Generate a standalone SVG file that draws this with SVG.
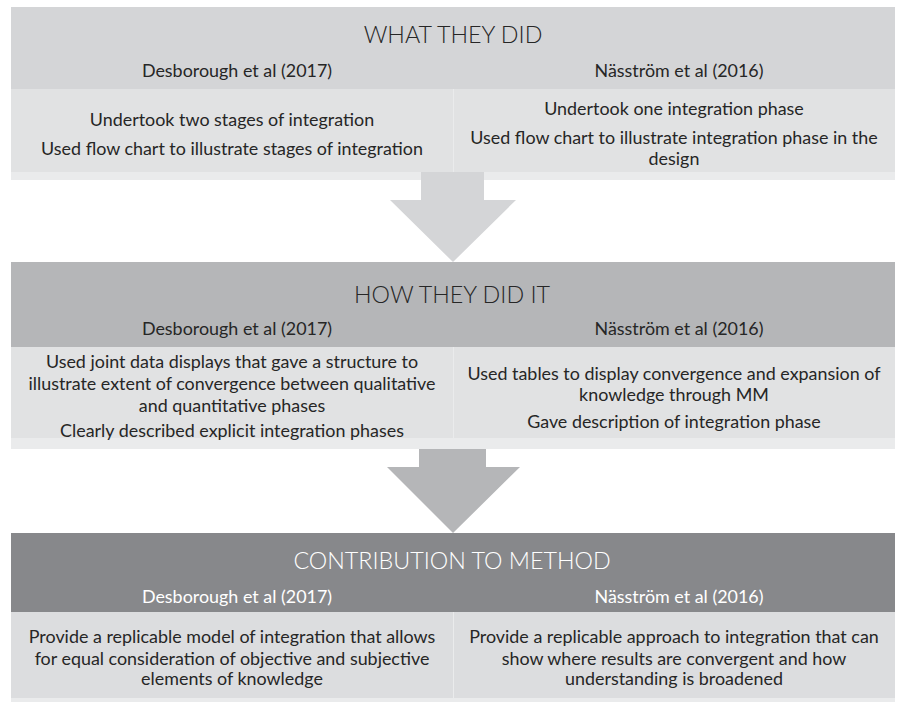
<svg xmlns="http://www.w3.org/2000/svg" width="898" height="702" viewBox="0 0 898 702">
<style>
text{font-family:Lato,"Liberation Sans",sans-serif;text-anchor:middle;fill:#262626}
.t{font-size:23.3px;font-weight:300}
.s{font-size:17.9px}
.b{font-size:17.9px}
.w{fill:#ffffff}
.strip{fill:#eaebec}
.cell{fill:#e1e2e3}
.cell3{fill:#dcdddf}
</style>
<rect width="898" height="702" fill="#ffffff"/>
<g id="what-they-did">
<rect class="strip" x="11" y="7" width="884" height="173"/>
<rect x="11" y="7" width="884" height="82" fill="#d4d5d7"/>
<rect class="cell" x="11" y="89" width="442" height="83"/>
<rect class="cell" x="454" y="89" width="441" height="83"/>
<text class="t" x="453" y="43">WHAT THEY DID</text>
<text class="s" x="237" y="77">Desborough et al (2017)</text>
<text class="s" x="679" y="77">Näsström et al (2016)</text>
<text class="b" x="232" y="126">Undertook two stages of integration</text>
<text class="b" x="232" y="155">Used flow chart to illustrate stages of integration</text>
<text class="b" x="674" y="115">Undertook one integration phase</text>
<text class="b" x="674" y="144">Used flow chart to illustrate integration phase in the</text>
<text class="b" x="674" y="165">design</text>
</g>
<g id="how-they-did-it">
<rect class="strip" x="11" y="262" width="884" height="187"/>
<rect x="11" y="262" width="884" height="85" fill="#b5b6b8"/>
<rect class="cell" x="11" y="347" width="442" height="91"/>
<rect class="cell" x="454" y="347" width="441" height="91"/>
<text class="t" x="452" y="303">HOW THEY DID IT</text>
<text class="s" x="237" y="335">Desborough et al (2017)</text>
<text class="s" x="679" y="335">Näsström et al (2016)</text>
<text class="b" x="232" y="368">Used joint data displays that gave a structure to</text>
<text class="b" x="232" y="390">illustrate extent of convergence between qualitative</text>
<text class="b" x="232" y="412">and quantitative phases</text>
<text class="b" x="232" y="437">Clearly described explicit integration phases</text>
<text class="b" x="674" y="380">Used tables to display convergence and expansion of</text>
<text class="b" x="674" y="401">knowledge through MM</text>
<text class="b" x="674" y="428">Gave description of integration phase</text>
</g>
<g id="contribution-to-method">
<rect class="strip" x="11" y="533" width="884" height="169"/>
<rect x="11" y="533" width="884" height="79" fill="#87888b"/>
<rect class="cell3" x="11" y="612" width="442" height="86"/>
<rect class="cell3" x="454" y="612" width="441" height="86"/>
<text class="t w" x="452" y="569">CONTRIBUTION TO METHOD</text>
<text class="s w" x="237" y="603">Desborough et al (2017)</text>
<text class="s w" x="679" y="603">Näsström et al (2016)</text>
<text class="b" x="232" y="643">Provide a replicable model of integration that allows</text>
<text class="b" x="232" y="665">for equal consideration of objective and subjective</text>
<text class="b" x="232" y="685">elements of knowledge</text>
<text class="b" x="674" y="643">Provide a replicable approach to integration that can</text>
<text class="b" x="674" y="665">show where results are convergent and how</text>
<text class="b" x="674" y="685">understanding is broadened</text>
</g>
<g id="connectors">
<polygon points="421,172 484,172 484,200 516,200 453,262 390,200 421,200" fill="#d4d5d7"/>
<polygon points="419,449 486,449 486,467 520,467 453,533 387,467 419,467" fill="#b5b6b8"/>
</g>
</svg>
